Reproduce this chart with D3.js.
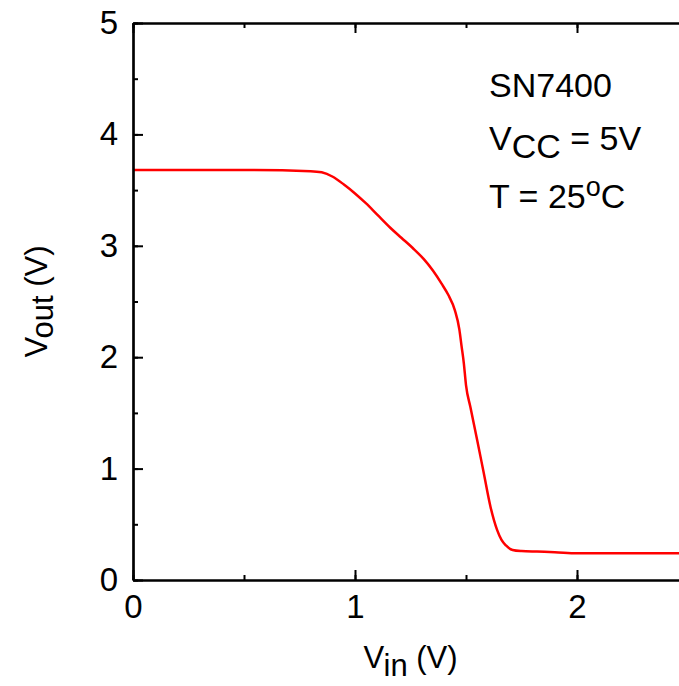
<!DOCTYPE html>
<head>
  <meta charset="utf-8">
  <script src="https://d3js.org/d3.v7.min.js"></script>
  <style>
    body { margin:0; background:#fff; }
    text { font-family: "Liberation Sans", Arial, sans-serif; fill:#000; }
  </style>
</head>
<body>
<script>
  // transfer curve of the gate
  var vin  = [0, 0.5, 0.8, 0.85, 0.9, 0.95, 1.0, 1.05, 1.1, 1.16, 1.21, 1.26, 1.31, 1.35, 1.39, 1.42, 1.45, 1.47, 1.48, 1.49, 1.50, 1.52, 1.55, 1.58, 1.61, 1.64, 1.66, 1.68, 1.71, 1.75, 1.82, 1.9, 2.0, 2.2, 2.5];
  var vout = [3.68, 3.68, 3.67, 3.66, 3.62, 3.55, 3.47, 3.38, 3.28, 3.16, 3.07, 2.98, 2.88, 2.78, 2.66, 2.56, 2.42, 2.25, 2.10, 1.95, 1.75, 1.55, 1.26, 0.96, 0.66, 0.45, 0.36, 0.31, 0.27, 0.26, 0.255, 0.25, 0.24, 0.24, 0.24];
  var xTicks = [0, 1, 2];
  var yTicks = [0, 1, 2, 3, 4, 5];
  var notes = ["SN7400", "VCC = 5V", "T = 25oC"];

  var width = 679, height = 686;
  var m = {left: 133, top: 23, right: 688, bottom: 580};

  var svg = d3.select("body").append("svg")
    .attr("width", width)
    .attr("height", height);

  var x = d3.scaleLinear().domain([0, 2.5]).range([m.left, m.right]);
  var y = d3.scaleLinear().domain([0, 5]).range([m.bottom, m.top]);

  var data = vin.map(function(d, i) { return {x: d, y: vout[i]}; });

  var line = d3.line()
    .x(function(d) { return x(d.x); })
    .y(function(d) { return y(d.y); })
    .curve(d3.curveMonotoneX);

  svg.append("path")
    .datum(data)
    .attr("fill", "none")
    .attr("stroke", "#ff0000")
    .attr("stroke-width", 2.5)
    .attr("d", line);

  // axes, ticks pointing inward
  function styleAxis(g) {
    g.select(".domain").attr("stroke-width", 2.2).attr("stroke", "#000");
    g.selectAll(".tick line").attr("stroke-width", 2).attr("stroke", "#000");
    g.selectAll(".tick text").attr("font-size", 33).attr("fill", "#000")
      .style("font-family", "Liberation Sans, Arial, sans-serif");
  }

  var minorX = d3.range(0, 2.51, 0.5), minorY = d3.range(0, 5.01, 0.5);
  var fmt = d3.format("d");

  svg.append("g").attr("transform", "translate(0," + m.bottom + ")")
    .call(d3.axisBottom(x).tickValues(minorX).tickSize(-5).tickFormat("").tickSizeOuter(0)).call(styleAxis);
  svg.append("g").attr("transform", "translate(0," + m.bottom + ")")
    .call(d3.axisBottom(x).tickValues(xTicks).tickSize(-10).tickPadding(15).tickFormat(fmt).tickSizeOuter(0)).call(styleAxis);
  svg.append("g").attr("transform", "translate(0," + m.top + ")")
    .call(d3.axisTop(x).tickValues(minorX).tickSize(-5).tickFormat("").tickSizeOuter(0)).call(styleAxis);
  svg.append("g").attr("transform", "translate(0," + m.top + ")")
    .call(d3.axisTop(x).tickValues(xTicks).tickSize(-10).tickFormat("").tickSizeOuter(0)).call(styleAxis);

  svg.append("g").attr("transform", "translate(" + m.left + ",0)")
    .call(d3.axisLeft(y).tickValues(minorY).tickSize(-5).tickFormat("").tickSizeOuter(0)).call(styleAxis);
  svg.append("g").attr("transform", "translate(" + m.left + ",0)")
    .call(d3.axisLeft(y).tickValues(yTicks).tickSize(-10).tickPadding(15).tickFormat(fmt).tickSizeOuter(0)).call(styleAxis);

  // axis titles
  var xt = svg.append("text").attr("x", (m.left + m.right) / 2).attr("y", 668)
    .attr("text-anchor", "middle").attr("font-size", 31);
  xt.append("tspan").text("V");
  xt.append("tspan").attr("dy", 8).text("in");
  xt.append("tspan").attr("dy", -8).text(" (V)");

  var yt = svg.append("text").attr("transform", "translate(47," + (m.top + m.bottom) / 2 + ") rotate(-90)")
    .attr("text-anchor", "middle").attr("font-size", 31);
  yt.append("tspan").text("V");
  yt.append("tspan").attr("dy", 6).text("out");
  yt.append("tspan").attr("dy", -6).text(" (V)");

  // annotation block
  svg.append("text").attr("x", 489).attr("y", 97).attr("font-size", 34).text(notes[0]);
  var n2 = svg.append("text").attr("x", 489).attr("y", 150).attr("font-size", 34);
  n2.append("tspan").text(notes[1].slice(0, 1));
  n2.append("tspan").attr("dy", 8).text(notes[1].slice(1, 3));
  n2.append("tspan").attr("dy", -8).text(notes[1].slice(3));
  var n3 = svg.append("text").attr("x", 489).attr("y", 208).attr("font-size", 34);
  n3.append("tspan").text(notes[2].slice(0, 6));
  n3.append("tspan").attr("dy", -12).attr("font-size", 27).text(notes[2].slice(6, 7));
  n3.append("tspan").attr("dy", 12).text(notes[2].slice(7));
</script>
</body>
